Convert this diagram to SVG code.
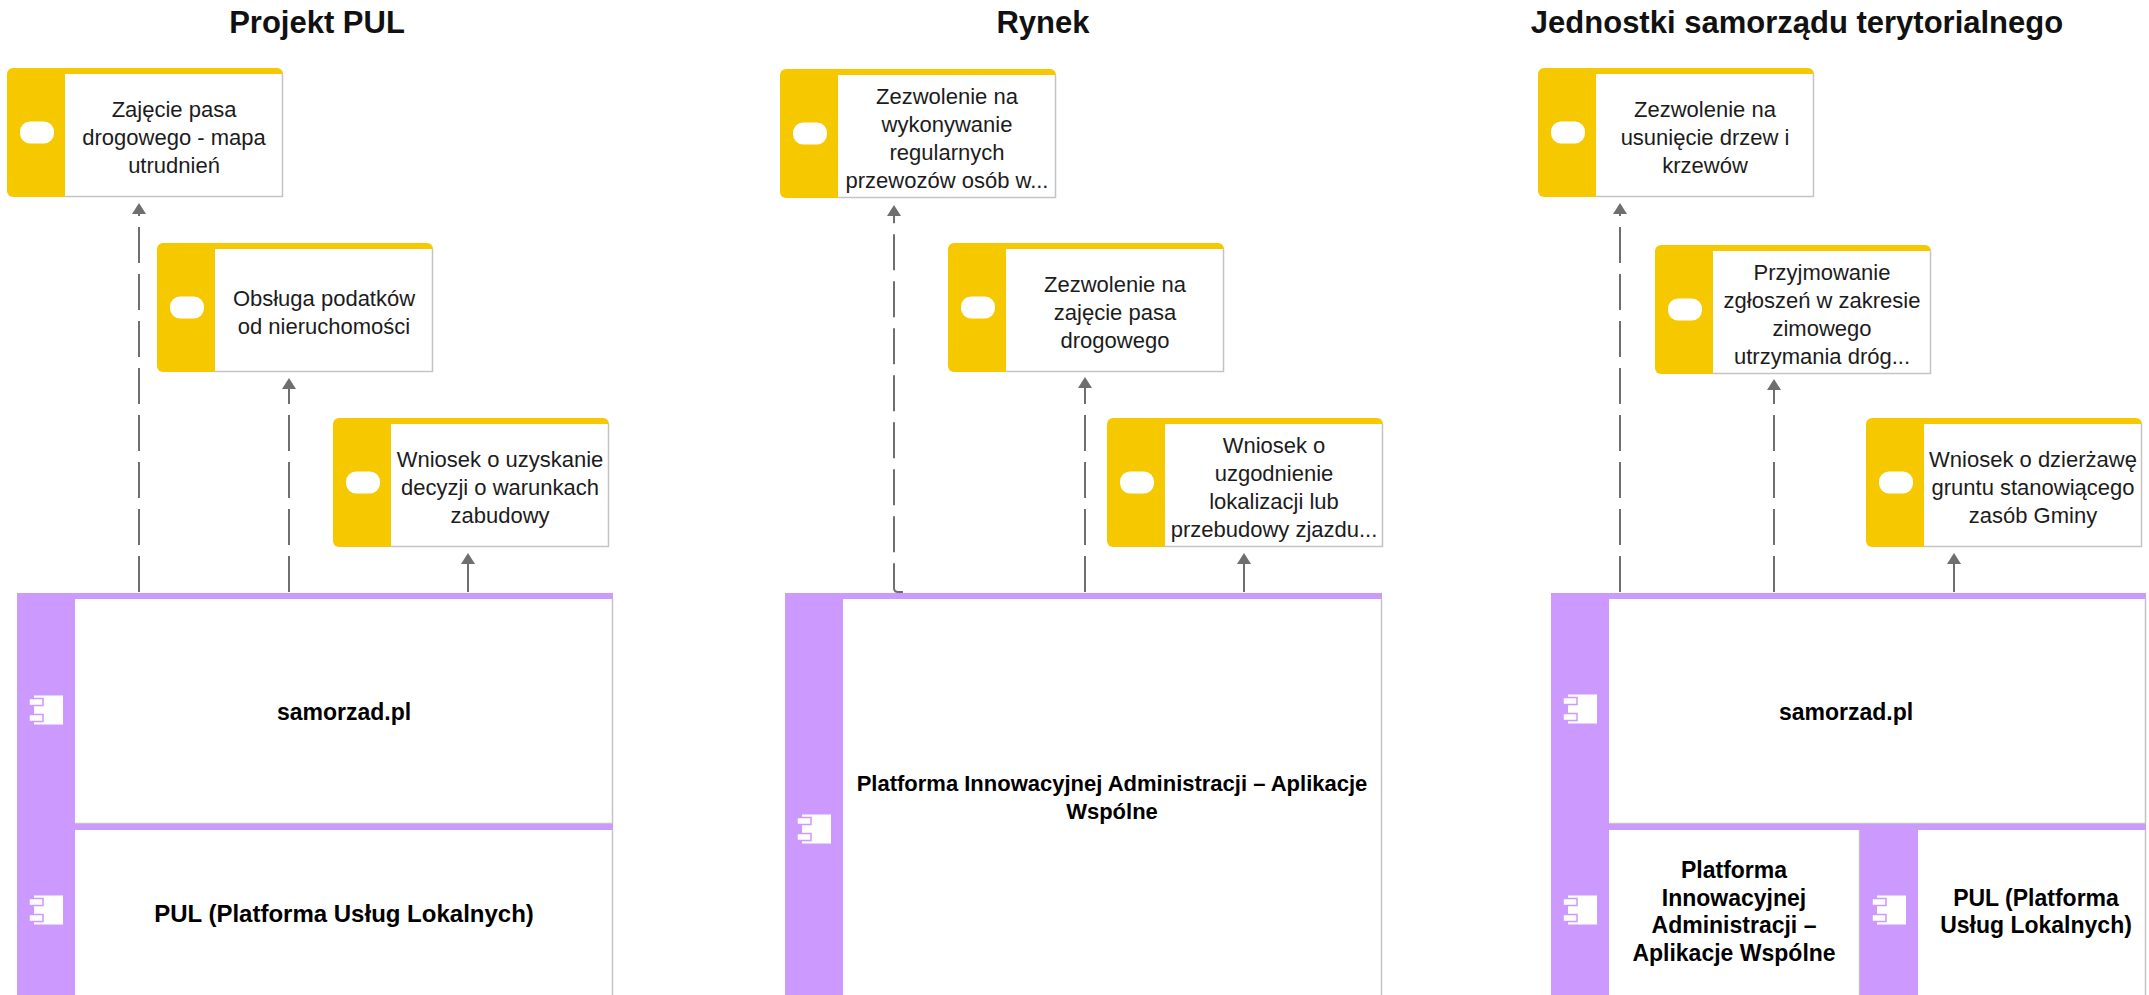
<svg xmlns="http://www.w3.org/2000/svg" width="2149" height="995" viewBox="0 0 2149 995">
<style>
.bg{fill:#ffffff}
.ybg{fill:#F5C800}
.pbg{fill:#CC99FF}
.wb{fill:#ffffff}
.edge{fill:none;stroke:#c4c4c4;stroke-width:1.5}
.pill{fill:#ffffff}
.ib{fill:#ffffff}
.it{fill:#ffffff;stroke:#CC99FF;stroke-width:1.5}
.t{font-family:"Liberation Sans",Arial,sans-serif;font-size:22px;fill:#1c1c1c;text-anchor:middle}
.tb{font-family:"Liberation Sans",Arial,sans-serif;font-size:23px;font-weight:bold;fill:#000000;text-anchor:middle}
.tbs{font-size:22px}
.tbl{font-size:24px}
.title{font-family:"Liberation Sans",Arial,sans-serif;font-size:31px;font-weight:bold;fill:#111111;text-anchor:middle}
.conn{fill:none;stroke:#6f6f6f;stroke-width:2}
.dash{stroke-dasharray:36 11}
</style>
<defs>
<marker id="arr" viewBox="0 0 11 14" refX="0" refY="7" markerWidth="11" markerHeight="14" orient="auto" markerUnits="userSpaceOnUse">
<path d="M0,0 L11,7 L0,14 z" fill="#6f6f6f"/>
</marker>
</defs>
<rect class="bg" x="0" y="0" width="2149" height="995"/>

<g id="titles">
<text class="title" x="317" y="33">Projekt PUL</text>
<text class="title" x="1043" y="33">Rynek</text>
<text class="title" x="1797" y="33">Jednostki samorządu terytorialnego</text>
</g>

<!-- Column 1 -->
<g id="node-zajecie-mapa">
<rect class="ybg" x="7" y="68" width="276" height="129" rx="6"/>
<rect class="wb" x="65" y="74" width="218" height="123"/>
<path class="edge" d="M65,196.5 H282.5 V74"/>
<rect class="pill" x="20" y="121.5" width="34" height="22" rx="10"/>
<text class="t" x="174" y="117">Zajęcie pasa</text>
<text class="t" x="174" y="145">drogowego - mapa</text>
<text class="t" x="174" y="173">utrudnień</text>
</g>
<g id="node-podatki">
<rect class="ybg" x="157" y="243" width="276" height="129" rx="6"/>
<rect class="wb" x="215" y="249" width="218" height="123"/>
<path class="edge" d="M215,371.5 H432.5 V249"/>
<rect class="pill" x="170" y="296.5" width="34" height="22" rx="10"/>
<text class="t" x="324" y="306">Obsługa podatków</text>
<text class="t" x="324" y="334">od nieruchomości</text>
</g>
<g id="node-warunki-zabudowy">
<rect class="ybg" x="333" y="418" width="276" height="129" rx="6"/>
<rect class="wb" x="391" y="424" width="218" height="123"/>
<path class="edge" d="M391,546.5 H608.5 V424"/>
<rect class="pill" x="346" y="471.5" width="34" height="22" rx="10"/>
<text class="t" x="500" y="467">Wniosek o uzyskanie</text>
<text class="t" x="500" y="495">decyzji o warunkach</text>
<text class="t" x="500" y="523">zabudowy</text>
</g>

<!-- Column 2 -->
<g id="node-przewozy">
<rect class="ybg" x="780" y="69" width="276" height="129" rx="6"/>
<rect class="wb" x="838" y="75" width="218" height="123"/>
<path class="edge" d="M838,197.5 H1055.5 V75"/>
<rect class="pill" x="793" y="122.5" width="34" height="22" rx="10"/>
<text class="t" x="947" y="104">Zezwolenie na</text>
<text class="t" x="947" y="132">wykonywanie</text>
<text class="t" x="947" y="160">regularnych</text>
<text class="t" x="947" y="188">przewozów osób w...</text>
</g>
<g id="node-zajecie-pasa">
<rect class="ybg" x="948" y="243" width="276" height="129" rx="6"/>
<rect class="wb" x="1006" y="249" width="218" height="123"/>
<path class="edge" d="M1006,371.5 H1223.5 V249"/>
<rect class="pill" x="961" y="296.5" width="34" height="22" rx="10"/>
<text class="t" x="1115" y="292">Zezwolenie na</text>
<text class="t" x="1115" y="320">zajęcie pasa</text>
<text class="t" x="1115" y="348">drogowego</text>
</g>
<g id="node-zjazd">
<rect class="ybg" x="1107" y="418" width="276" height="129" rx="6"/>
<rect class="wb" x="1165" y="424" width="218" height="123"/>
<path class="edge" d="M1165,546.5 H1382.5 V424"/>
<rect class="pill" x="1120" y="471.5" width="34" height="22" rx="10"/>
<text class="t" x="1274" y="453">Wniosek o</text>
<text class="t" x="1274" y="481">uzgodnienie</text>
<text class="t" x="1274" y="509">lokalizacji lub</text>
<text class="t" x="1274" y="537">przebudowy zjazdu...</text>
</g>

<!-- Column 3 -->
<g id="node-drzewa">
<rect class="ybg" x="1538" y="68" width="276" height="129" rx="6"/>
<rect class="wb" x="1596" y="74" width="218" height="123"/>
<path class="edge" d="M1596,196.5 H1813.5 V74"/>
<rect class="pill" x="1551" y="121.5" width="34" height="22" rx="10"/>
<text class="t" x="1705" y="117">Zezwolenie na</text>
<text class="t" x="1705" y="145">usunięcie drzew i</text>
<text class="t" x="1705" y="173">krzewów</text>
</g>
<g id="node-zima">
<rect class="ybg" x="1655" y="245" width="276" height="129" rx="6"/>
<rect class="wb" x="1713" y="251" width="218" height="123"/>
<path class="edge" d="M1713,373.5 H1930.5 V251"/>
<rect class="pill" x="1668" y="298.5" width="34" height="22" rx="10"/>
<text class="t" x="1822" y="280">Przyjmowanie</text>
<text class="t" x="1822" y="308">zgłoszeń w zakresie</text>
<text class="t" x="1822" y="336">zimowego</text>
<text class="t" x="1822" y="364">utrzymania dróg...</text>
</g>
<g id="node-dzierzawa">
<rect class="ybg" x="1866" y="418" width="276" height="129" rx="6"/>
<rect class="wb" x="1924" y="424" width="218" height="123"/>
<path class="edge" d="M1924,546.5 H2141.5 V424"/>
<rect class="pill" x="1879" y="471.5" width="34" height="22" rx="10"/>
<text class="t" x="2033" y="467">Wniosek o dzierżawę</text>
<text class="t" x="2033" y="495">gruntu stanowiącego</text>
<text class="t" x="2033" y="523">zasób Gminy</text>
</g>

<!-- Application systems -->
<g id="sys-samorzad-1">
<rect class="pbg" x="17" y="593" width="596" height="231"/>
<rect class="wb" x="75" y="599" width="538" height="225"/>
<path class="edge" d="M75,823.5 H612.5 V599"/>
<rect class="ib" x="34" y="695.5" width="29" height="29"/>
<rect class="it" x="29" y="698.5" width="14" height="7"/>
<rect class="it" x="29" y="714.5" width="14" height="7"/>
<text class="tb" x="344" y="720">samorzad.pl</text>
</g>
<g id="sys-pul-1">
<rect class="pbg" x="17" y="824" width="596" height="180"/>
<rect class="wb" x="75" y="830" width="538" height="174"/>
<path class="edge" d="M612.5,830 V1004"/>
<rect class="ib" x="34" y="895.5" width="29" height="29"/>
<rect class="it" x="29" y="898.5" width="14" height="7"/>
<rect class="it" x="29" y="914.5" width="14" height="7"/>
<text class="tb tbl" x="344" y="922">PUL (Platforma Usług Lokalnych)</text>
</g>
<g id="sys-pia-2">
<rect class="pbg" x="785" y="593" width="597" height="420"/>
<rect class="wb" x="843" y="599" width="539" height="414"/>
<path class="edge" d="M1381.5,599 V1013"/>
<rect class="ib" x="802" y="814.5" width="29" height="29"/>
<rect class="it" x="797" y="817.5" width="14" height="7"/>
<rect class="it" x="797" y="833.5" width="14" height="7"/>
<text class="tb tbs" x="1112" y="791">Platforma Innowacyjnej Administracji – Aplikacje</text>
<text class="tb tbs" x="1112" y="819">Wspólne</text>
</g>
<g id="sys-samorzad-3">
<rect class="pbg" x="1551" y="593" width="595" height="231"/>
<rect class="wb" x="1609" y="599" width="537" height="225"/>
<path class="edge" d="M1609,823.5 H2145.5 V599"/>
<rect class="ib" x="1568" y="694.5" width="29" height="29"/>
<rect class="it" x="1563" y="697.5" width="14" height="7"/>
<rect class="it" x="1563" y="713.5" width="14" height="7"/>
<text class="tb" x="1846" y="720">samorzad.pl</text>
</g>
<g id="sys-pia-3">
<rect class="pbg" x="1551" y="824" width="309" height="180"/>
<rect class="wb" x="1609" y="830" width="251" height="174"/>
<path class="edge" d="M1859.5,830 V1004"/>
<rect class="ib" x="1568" y="895.5" width="29" height="29"/>
<rect class="it" x="1563" y="898.5" width="14" height="7"/>
<rect class="it" x="1563" y="914.5" width="14" height="7"/>
<text class="tb" x="1734" y="878">Platforma</text>
<text class="tb" x="1734" y="906">Innowacyjnej</text>
<text class="tb" x="1734" y="933">Administracji –</text>
<text class="tb" x="1734" y="961">Aplikacje Wspólne</text>
</g>
<g id="sys-pul-3">
<rect class="pbg" x="1860" y="824" width="286" height="180"/>
<rect class="wb" x="1918" y="830" width="228" height="174"/>
<path class="edge" d="M2145.5,830 V1004"/>
<rect class="ib" x="1877" y="895.5" width="29" height="29"/>
<rect class="it" x="1872" y="898.5" width="14" height="7"/>
<rect class="it" x="1872" y="914.5" width="14" height="7"/>
<text class="tb" x="2036" y="906">PUL (Platforma</text>
<text class="tb" x="2036" y="933">Usług Lokalnych)</text>
</g>

<g id="connectors">
<path class="conn dash" d="M139,592 V214" marker-end="url(#arr)"/>
<path class="conn dash" d="M289,592 V389" marker-end="url(#arr)"/>
<path class="conn" d="M468,592 V564" marker-end="url(#arr)"/>
<path class="conn dash" d="M903,592 H898 Q894,592 894,588 V216" marker-end="url(#arr)"/>
<path class="conn dash" d="M1085,592 V388" marker-end="url(#arr)"/>
<path class="conn" d="M1244,592 V564" marker-end="url(#arr)"/>
<path class="conn dash" d="M1620,592 V214" marker-end="url(#arr)"/>
<path class="conn dash" d="M1774,592 V390" marker-end="url(#arr)"/>
<path class="conn" d="M1954,592 V564" marker-end="url(#arr)"/>
</g>
</svg>
